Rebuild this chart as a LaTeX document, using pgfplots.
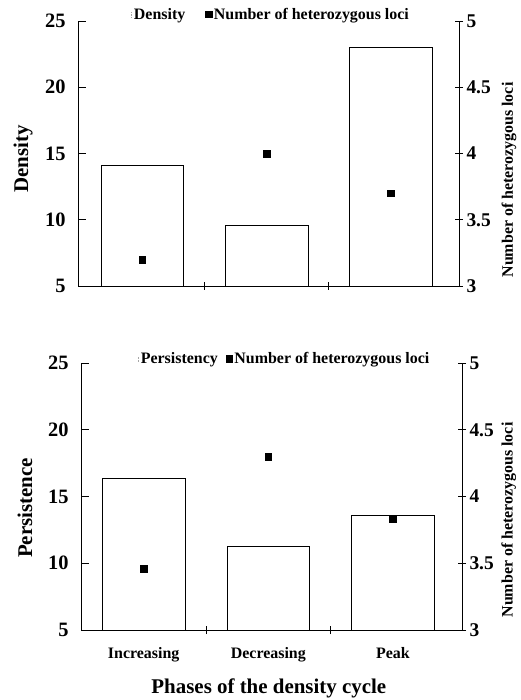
\documentclass[border=0pt]{standalone}
\usepackage{fontspec}
\setmainfont{Liberation Serif}
\usepackage{pgfplots}
\pgfplotsset{compat=1.18}
\begin{document}
\begin{tikzpicture}
\useasboundingbox (0,0) rectangle (521bp,700bp);
\pgfplotsset{
  common/.style={
    scale only axis, width=381bp,
    /pgf/number format/assume math mode=true,
    axis line style={line width=0.8pt, black},
    every tick/.style={line width=0.8pt, black},
    clip=false,
  },
  leftax/.style={common,
    ymin=5, ymax=25, ytick={5,10,15,20,25},
    axis y line*=left, axis x line*=bottom,
    xtick=\empty, tick align=inside, major tick length=8bp,
    yticklabel style={font=\bfseries\fontsize{20.5}{20.5}\selectfont, xshift=-9bp},
    ylabel style={font=\bfseries\fontsize{21}{21}\selectfont, anchor=center},
  },
  rightax/.style={common,
    ymin=3, ymax=5, ytick={3,3.5,4,4.5,5}, yticklabels={3,3.5,4,4.5,5},
    axis y line*=right, axis x line*=bottom,
    xtick={0.5,1.5}, xticklabels={}, tick align=center, major tick length=8bp,
    yticklabel style={font=\bfseries\fontsize{19.5}{19.5}\selectfont},
    ylabel style={font=\bfseries\fontsize{16}{16}\selectfont, anchor=center},
    legend style={draw=none, fill=none, font=\bfseries\fontsize{16}{16}\selectfont, legend columns=2, inner sep=0pt},
  },
  barimg/.style={legend image code/.code={\draw[gray!70, line width=0.5pt, densely dotted] (0.22cm,-0.1cm) -- (0.22cm,0.1cm);}},
}
% ---------- top panel ----------
\begin{axis}[leftax, at={(78bp,414bp)}, anchor=south west, height=265bp,
  xmin=-0.516, xmax=2.547,
  ylabel={Density}, ylabel style={at={(axis description cs:-0.144,0.479)}}]
\addplot[ybar, bar width=0.663, fill=white, draw=black, line width=0.6pt] coordinates {(0,14.1) (1,9.55) (2,23.0)};
\end{axis}
\begin{axis}[rightax, at={(78bp,414bp)}, anchor=south west, height=265bp,
  xmin=-0.516, xmax=2.547,
  ylabel={Number of heterozygous loci}, ylabel style={at={(axis description cs:1.131,0.40)}},
  legend style={at={(axis description cs:0.507,1.025)}, anchor=center, /tikz/every even column/.append style={column sep=18bp}}]
\addlegendimage{barimg}
\addlegendentry{Density}
\addplot[only marks, mark=square*, mark size=3.3bp, black] coordinates {(0,3.2) (1,4.0) (2,3.7)};
\addlegendentry{Number of heterozygous loci}
\end{axis}
% ---------- bottom panel ----------
\begin{axis}[leftax, at={(81bp,70bp)}, anchor=south west, height=267bp,
  xmin=-0.503, xmax=2.554,
  ylabel={Persistence}, ylabel style={at={(axis description cs:-0.147,0.457)}},
  xlabel={Phases of the density cycle},
  xlabel style={font=\bfseries\fontsize{21}{21}\selectfont, at={(axis description cs:0.493,-0.217)}, anchor=center}]
\addplot[ybar, bar width=0.663, fill=white, draw=black, line width=0.6pt] coordinates {(0,16.35) (1,11.25) (2,13.6)};
\end{axis}
\begin{axis}[rightax, at={(81bp,70bp)}, anchor=south west, height=267bp,
  xmin=-0.503, xmax=2.554,
  extra x ticks={0,1,2}, extra x tick labels={Increasing,Decreasing,Peak},
  extra x tick style={major tick length=0pt, tick label style={font=\bfseries\fontsize{16}{16}\selectfont, yshift=-14bp}},
  ylabel={Number of heterozygous loci}, ylabel style={at={(axis description cs:1.123,0.412)}},
  legend style={at={(axis description cs:0.535,1.015)}, anchor=center, /tikz/every even column/.append style={column sep=6bp}}]
\addlegendimage{barimg}
\addlegendentry{Persistency}
\addplot[only marks, mark=square*, mark size=3.3bp, black] coordinates {(0,3.46) (1,4.30) (2,3.83)};
\addlegendentry{Number of heterozygous loci}
\end{axis}
\end{tikzpicture}
\end{document}
